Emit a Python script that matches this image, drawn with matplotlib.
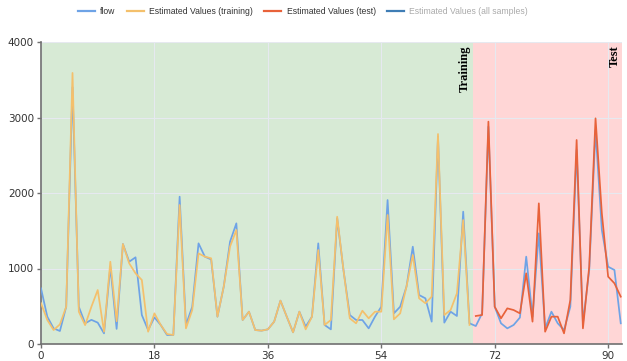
import numpy as np
import matplotlib
matplotlib.use("Agg")
import matplotlib.pyplot as plt
from matplotlib.lines import Line2D

# observed flow, one value per sample
flow = [737, 362, 207, 172, 494, 3400, 494, 274, 320, 283,
        141, 1024, 200, 1324, 1090, 1148, 384, 185, 353, 252,
        119, 119, 1951, 252, 494, 1333, 1157, 1120, 362, 760,
        1355, 1598, 318, 428, 185, 177, 194, 296, 574, 362,
        155, 428, 230, 362, 1333, 252, 194, 1664, 980, 384,
        318, 318, 207, 362, 494, 1907, 406, 494, 760, 1289,
        649, 605, 296, 2746, 283, 428, 371, 1753, 274, 238,
        406, 2879, 494, 274, 207, 252, 350, 1157, 362, 1466,
        207, 428, 274, 185, 494, 2570, 274, 980, 2834, 1510,
        1024, 980, 274]

# model output on the training partition (samples 0..68)
est_train = [540, 318, 185, 260, 494, 3590, 428, 250, 494, 715,
             163, 1090, 300, 1324, 1068, 936, 848, 163, 406, 252,
             132, 119, 1841, 207, 450, 1200, 1157, 1135, 362, 760,
             1290, 1510, 318, 428, 185, 177, 194, 296, 574, 362,
             155, 428, 194, 362, 1245, 252, 318, 1686, 980, 340,
             274, 441, 340, 428, 428, 1709, 327, 406, 760, 1179,
             605, 540, 627, 2781, 384, 450, 671, 1642, 252]

# model output on the test partition (samples 69..92)
est_test = [371, 384, 2945, 494, 340, 472, 450, 406, 936, 296,
            1863, 163, 362, 362, 141, 583, 2702, 207, 1024, 2989,
            1731, 892, 804, 627]

x_ticks = [0, 18, 36, 54, 72, 90]
y_ticks = [0, 1000, 2000, 3000, 4000]

C_FLOW = "#6ea3e6"
C_TRAIN = "#f4c06c"
C_TEST = "#e8623a"
C_ALL = "#3f7db5"

n = len(flow)
n_train = len(est_train)
split = 68.6

plt.rcParams["font.family"] = ["DejaVu Sans"]
fig = plt.figure(figsize=(6.27, 3.61), dpi=100)
ax = fig.add_axes([41 / 627, 1 - 344 / 361, 581 / 627, 302 / 361])

ax.axvspan(0, split, color="#d7ead5", zorder=0, lw=0)
ax.axvspan(split, n, color="#ffd6d6", zorder=0, lw=0)

xs = np.arange(n)
ax.plot(xs, flow, color=C_FLOW, lw=1.25, zorder=3)
ax.plot(xs[:n_train], est_train, color=C_TRAIN, lw=1.25, zorder=4)
ax.plot(xs[n_train:], est_test, color=C_TEST, lw=1.25, zorder=4)

ax.set_xlim(0, 92.2)
ax.set_ylim(0, 4000)
ax.set_xticks(x_ticks)
ax.set_yticks(y_ticks)
ax.grid(True, color="#e6e9f0", lw=0.8, zorder=1)
ax.set_axisbelow(True)
for side in ("top", "right"):
    ax.spines[side].set_visible(False)
for side in ("left", "bottom"):
    ax.spines[side].set_color("#707070")
    ax.spines[side].set_linewidth(1.2)
ax.tick_params(length=3, width=1, color="#707070", labelsize=7.5,
               labelcolor="#333333", pad=2)

ax.text(split - 0.4, 3960, "Training", rotation=90, ha="right", va="top",
        fontsize=9, fontweight="bold", family="Liberation Serif", zorder=5)
ax.text(92.0, 3960, "Test", rotation=90, ha="right", va="top",
        fontsize=9, fontweight="bold", family="Liberation Serif", zorder=5)

handles = [Line2D([], [], color=C_FLOW, lw=1.6),
           Line2D([], [], color=C_TRAIN, lw=1.6),
           Line2D([], [], color=C_TEST, lw=1.6),
           Line2D([], [], color=C_ALL, lw=1.6)]
labels = ["flow", "Estimated Values (training)", "Estimated Values (test)",
          "Estimated Values (all samples)"]
leg = fig.legend(handles, labels, loc="center", bbox_to_anchor=(0.483, 0.968),
                 ncol=4, frameon=False, prop={"family": "Liberation Sans", "size": 6.2},
                 handlelength=2.0, handletextpad=0.6, columnspacing=1.3)
for t in leg.get_texts():
    t.set_color("#333333")
leg.get_texts()[-1].set_color("#aaaaaa")

fig.savefig("out.png", dpi=100)
